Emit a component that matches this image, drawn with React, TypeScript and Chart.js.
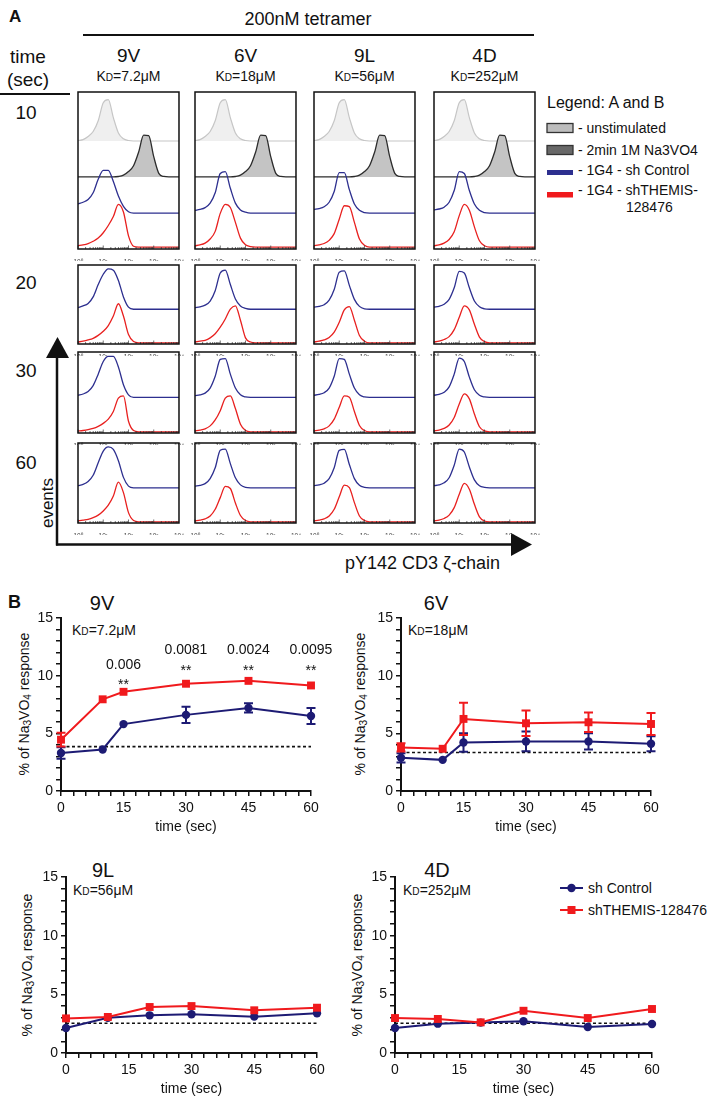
import React, { useEffect, useRef } from 'react';
import { Chart, registerables } from 'chart.js';

Chart.register(...registerables);

const SANS = '"Liberation Sans", Arial, Helvetica, sans-serif';
const NARROW = '"Liberation Sans Narrow", "Liberation Sans", Arial, sans-serif';

// ---------------- Panel A : histogram data (x in decades of fluorescence) ----------------
const histGrid = [0, 0.2, 0.4, 0.6, 0.8, 1, 1.2, 1.4, 1.6, 1.8, 2, 2.2, 2.4, 2.6, 2.8, 3, 3.2, 3.4, 3.6, 3.8, 4];
const decadeTickLabels = ['10⁰', '10¹', '10²', '10³', '10⁴'];
const columnNames = ['9V', '6V', '9L', '4D'];
const columnKd = ['7.2μM', '18μM', '56μM', '252μM'];
const rowTimes = ['10', '20', '30', '60'];

const unstimulated = [1, 3, 10, 21, 45, 85, 92, 52, 18, 5, 1, 0, 0, 0, 0, 0, 0, 0, 0, 0, 0];
const na3vo4 = [0, 0, 0, 0, 0, 0, 0, 0, 1, 4, 12, 25, 55, 93, 92, 45, 8, 1, 0, 0, 0];

const ctrl10_9V = [20, 24, 30, 45, 75, 95, 95, 70, 38, 15, 3, 0, 0, 0, 0, 0, 0, 0, 0, 0, 0];
const themis10_9V = [3, 5, 8, 13, 20, 32, 48, 68, 95, 78, 25, 2, 0, 0, 0, 0, 0, 0, 0, 0, 0];
const ctrl10_6V = [6, 8, 12, 22, 45, 88, 92, 55, 22, 7, 2, 0, 0, 0, 0, 0, 0, 0, 0, 0, 0];
const themis10_6V = [3, 5, 9, 18, 35, 75, 95, 88, 55, 20, 5, 1, 0, 0, 0, 0, 0, 0, 0, 0, 0];
const ctrl10_9L = [8, 10, 14, 24, 48, 90, 90, 52, 20, 6, 1, 0, 0, 0, 0, 0, 0, 0, 0, 0, 0];
const themis10_9L = [3, 5, 8, 15, 30, 62, 92, 90, 55, 18, 4, 0, 0, 0, 0, 0, 0, 0, 0, 0, 0];
const ctrl10_4D = [7, 9, 13, 24, 50, 92, 88, 50, 20, 6, 1, 0, 0, 0, 0, 0, 0, 0, 0, 0, 0];
const themis10_4D = [3, 5, 9, 17, 34, 70, 95, 82, 45, 14, 3, 0, 0, 0, 0, 0, 0, 0, 0, 0, 0];

const ctrl20_9V = [4, 8, 14, 30, 60, 85, 98, 95, 70, 30, 5, 0, 0, 0, 0, 0, 0, 0, 0, 0, 0];
const themis20_9V = [2, 4, 7, 11, 18, 28, 42, 65, 95, 65, 20, 3, 0, 0, 0, 0, 0, 0, 0, 0, 0];
const ctrl20_6V = [4, 6, 10, 20, 45, 88, 95, 60, 25, 8, 2, 0, 0, 0, 0, 0, 0, 0, 0, 0, 0];
const themis20_6V = [2, 4, 6, 12, 22, 38, 58, 82, 90, 55, 12, 2, 0, 0, 0, 0, 0, 0, 0, 0, 0];
const ctrl20_9L = [5, 7, 11, 22, 48, 90, 93, 58, 24, 7, 1, 0, 0, 0, 0, 0, 0, 0, 0, 0, 0];
const themis20_9L = [2, 4, 7, 13, 26, 50, 80, 88, 55, 18, 4, 0, 0, 0, 0, 0, 0, 0, 0, 0, 0];
const ctrl20_4D = [5, 7, 12, 24, 52, 92, 88, 52, 20, 6, 1, 0, 0, 0, 0, 0, 0, 0, 0, 0, 0];
const themis20_4D = [2, 4, 8, 15, 32, 62, 90, 80, 45, 14, 3, 0, 0, 0, 0, 0, 0, 0, 0, 0, 0];

const ctrl30_9V = [5, 8, 14, 28, 55, 85, 97, 97, 72, 30, 6, 0, 0, 0, 0, 0, 0, 0, 0, 0, 0];
const themis30_9V = [2, 3, 5, 8, 13, 20, 30, 48, 80, 85, 25, 3, 0, 0, 0, 0, 0, 0, 0, 0, 0];
const ctrl30_6V = [4, 6, 10, 22, 50, 90, 92, 55, 22, 6, 1, 0, 0, 0, 0, 0, 0, 0, 0, 0, 0];
const themis30_6V = [2, 4, 7, 14, 28, 50, 80, 85, 55, 18, 3, 0, 0, 0, 0, 0, 0, 0, 0, 0, 0];
const ctrl30_9L = [5, 7, 11, 22, 50, 92, 90, 55, 22, 6, 1, 0, 0, 0, 0, 0, 0, 0, 0, 0, 0];
const themis30_9L = [2, 4, 7, 14, 30, 58, 85, 82, 48, 15, 3, 0, 0, 0, 0, 0, 0, 0, 0, 0, 0];
const ctrl30_4D = [5, 7, 12, 25, 55, 93, 85, 48, 18, 5, 1, 0, 0, 0, 0, 0, 0, 0, 0, 0, 0];
const themis30_4D = [2, 4, 8, 16, 34, 66, 90, 78, 42, 12, 2, 0, 0, 0, 0, 0, 0, 0, 0, 0, 0];

const ctrl60_9V = [5, 8, 15, 30, 60, 88, 98, 92, 65, 25, 4, 0, 0, 0, 0, 0, 0, 0, 0, 0, 0];
const themis60_9V = [2, 4, 6, 10, 16, 26, 40, 62, 95, 70, 22, 3, 0, 0, 0, 0, 0, 0, 0, 0, 0];
const ctrl60_6V = [4, 6, 10, 22, 48, 90, 93, 58, 24, 7, 1, 0, 0, 0, 0, 0, 0, 0, 0, 0, 0];
const themis60_6V = [2, 4, 7, 14, 30, 58, 85, 80, 45, 15, 3, 0, 0, 0, 0, 0, 0, 0, 0, 0, 0];
const ctrl60_9L = [5, 7, 11, 22, 48, 90, 92, 56, 22, 6, 1, 0, 0, 0, 0, 0, 0, 0, 0, 0, 0];
const themis60_9L = [2, 4, 7, 14, 30, 60, 88, 82, 46, 14, 3, 0, 0, 0, 0, 0, 0, 0, 0, 0, 0];
const ctrl60_4D = [5, 7, 12, 24, 54, 93, 86, 50, 19, 5, 1, 0, 0, 0, 0, 0, 0, 0, 0, 0, 0];
const themis60_4D = [2, 4, 8, 16, 34, 66, 92, 78, 42, 12, 2, 0, 0, 0, 0, 0, 0, 0, 0, 0, 0];

const ctrlHist = [
  [ctrl10_9V, ctrl10_6V, ctrl10_9L, ctrl10_4D],
  [ctrl20_9V, ctrl20_6V, ctrl20_9L, ctrl20_4D],
  [ctrl30_9V, ctrl30_6V, ctrl30_9L, ctrl30_4D],
  [ctrl60_9V, ctrl60_6V, ctrl60_9L, ctrl60_4D],
];
const themisHist = [
  [themis10_9V, themis10_6V, themis10_9L, themis10_4D],
  [themis20_9V, themis20_6V, themis20_9L, themis20_4D],
  [themis30_9V, themis30_6V, themis30_9L, themis30_4D],
  [themis60_9V, themis60_6V, themis60_9L, themis60_4D],
];

// ---------------- Panel B : % of Na3VO4 response ----------------
const time9V = [0, 10, 15, 30, 45, 60];
const ctrl9V = [3.3, 3.6, 5.8, 6.6, 7.2, 6.5];
const ctrl9VErr = [0.5, 0, 0, 0.7, 0.4, 0.7];
const themis9V = [4.45, 7.95, 8.6, 9.3, 9.55, 9.15];
const themis9VErr = [0.6, 0, 0, 0, 0, 0];
const baseline9V = 3.85;
const sigTimes9V = [15, 30, 45, 60];
const sigP9V = ['0.006', '0.0081', '0.0024', '0.0095'];
const sigPLevel9V = [10.9, 12.2, 12.2, 12.2];
const sigStarLevel9V = [9.15, 10.4, 10.4, 10.4];

const time6V = [0, 10, 15, 30, 45, 60];
const ctrl6V = [2.88, 2.7, 4.2, 4.3, 4.3, 4.1];
const ctrl6VErr = [0.4, 0, 0.8, 0.85, 0.7, 0.65];
const themis6V = [3.78, 3.66, 6.25, 5.87, 5.96, 5.81];
const themis6VErr = [0.35, 0, 1.4, 1.1, 0.85, 0.95];
const baseline6V = 3.34;

const time9L = [0, 10, 20, 30, 45, 60];
const ctrl9L = [2.13, 3.01, 3.21, 3.3, 3.1, 3.38];
const themis9L = [2.95, 3.07, 3.92, 4.0, 3.64, 3.86];
const baseline9L = 2.53;

const time4D = [0, 10, 20, 30, 45, 60];
const ctrl4D = [2.13, 2.5, 2.59, 2.7, 2.22, 2.47];
const themis4D = [2.98, 2.9, 2.61, 3.6, 2.98, 3.75];
const baseline4D = 2.53;

const xTicksB = [0, 15, 30, 45, 60];
const yTicksB = [0, 5, 10, 15];

// ---------------- styling / layout ----------------
const NAVY = '#1d1b74';
const RED = '#f01a1d';
const BLUE_H = '#2d2f8f';
const RED_H = '#e8201f';

const boxLefts = [78, 195, 314, 434];
const boxW = 101;
const rowTops = [92, 265, 352, 443];
const rowHeights = [157, 79, 81, 80];
const rowLabelY = [112, 282, 370, 462];

const histFrame = {
  id: 'histFrame',
  afterDatasetsDraw(chart: any) {
    const { ctx, chartArea: a, scales } = chart;
    const xs = scales.x;
    ctx.save();
    ctx.strokeStyle = '#333';
    ctx.lineWidth = 0.7;
    for (let d = 0; d < 4; d++) {
      for (let k = 1; k <= 9; k++) {
        const px = xs.getPixelForValue(d + Math.log10(k));
        const len = k === 1 ? 3.5 : 2;
        ctx.beginPath();
        ctx.moveTo(px, a.bottom);
        ctx.lineTo(px, a.bottom - len);
        ctx.stroke();
      }
    }
    ctx.lineWidth = 1.5;
    ctx.strokeStyle = '#111';
    ctx.strokeRect(a.left, a.top, a.right - a.left, a.bottom - a.top);
    ctx.restore();
  },
};

function HistCell({ row, col }: { row: number; col: number }) {
  const ref = useRef<HTMLCanvasElement>(null);
  const left = boxLefts[col];
  const top = rowTops[row];
  const height = rowHeights[row];
  useEffect(() => {
    const first = row === 0;
    const span = first ? 349 : 192;
    const lanes: any[] = first
      ? [
          { v: unstimulated, line: '#c6c6c6', fill: '#efefef', f: 0.688, w: 1.2 },
          { v: na3vo4, line: '#2c2c2c', fill: '#c4c4c4', f: 0.459, w: 1.3 },
          { v: ctrlHist[row][col], line: BLUE_H, f: 0.229, w: 1.3 },
          { v: themisHist[row][col], line: RED_H, f: 0.012, w: 1.3 },
        ]
      : [
          { v: ctrlHist[row][col], line: BLUE_H, f: 0.44, w: 1.3 },
          { v: themisHist[row][col], line: RED_H, f: 0.015, w: 1.3 },
        ];
    const scales: any = {
      x: {
        type: 'linear',
        min: 0,
        max: 4,
        position: 'bottom',
        border: { display: false },
        grid: { display: false },
        ticks: {
          stepSize: 1,
          autoSkip: false,
          maxRotation: 0,
          padding: 1,
          color: '#444',
          font: { family: SANS, size: 6.5 },
          callback: (v: number) => decadeTickLabels[v],
        },
        afterFit: (s: any) => {
          s.height = 12;
        },
      },
    };
    lanes.forEach((l, i) => {
      scales['y' + i] = { display: false, min: -l.f * span, max: (1 - l.f) * span };
    });
    const chart = new Chart(ref.current as HTMLCanvasElement, {
      type: 'line',
      data: {
        datasets: lanes.map((l, i) => ({
          data: histGrid.map((x, j) => ({ x, y: l.v[j] })),
          yAxisID: 'y' + i,
          borderColor: l.line,
          backgroundColor: l.fill || 'rgba(0,0,0,0)',
          fill: l.fill ? 'origin' : false,
          borderWidth: l.w,
          pointRadius: 0,
          cubicInterpolationMode: 'monotone',
          order: lanes.length - i,
        })),
      },
      options: {
        animation: false,
        responsive: false,
        events: [],
        layout: { padding: { left: 6, right: 6, top: 1, bottom: 0 } },
        plugins: { legend: { display: false }, tooltip: { enabled: false } },
        scales,
      } as any,
      plugins: [histFrame],
    });
    return () => chart.destroy();
  }, [row, col]);
  return (
    <canvas
      ref={ref}
      width={boxW + 12}
      height={height + 13}
      style={{ position: 'absolute', left: left - 6, top: top - 1, width: boxW + 12, height: height + 13 }}
    />
  );
}

const errorBars = {
  id: 'errorBars',
  afterDatasetsDraw(chart: any) {
    const { ctx, scales } = chart;
    chart.data.datasets.forEach((ds: any) => {
      if (!ds.errors) return;
      ctx.save();
      ctx.strokeStyle = ds.borderColor;
      ctx.lineWidth = 2;
      ds.data.forEach((p: any, i: number) => {
        const e = ds.errors[i];
        if (!e) return;
        const x = scales.x.getPixelForValue(p.x);
        const y1 = scales.y.getPixelForValue(p.y - e);
        const y2 = scales.y.getPixelForValue(p.y + e);
        ctx.beginPath();
        ctx.moveTo(x, y1);
        ctx.lineTo(x, y2);
        ctx.moveTo(x - 4.5, y1);
        ctx.lineTo(x + 4.5, y1);
        ctx.moveTo(x - 4.5, y2);
        ctx.lineTo(x + 4.5, y2);
        ctx.stroke();
      });
      ctx.restore();
    });
  },
};

const sigMarks = {
  id: 'sigMarks',
  afterDatasetsDraw(chart: any, _args: any, opts: any) {
    if (!opts || !opts.times) return;
    const { ctx, scales } = chart;
    ctx.save();
    ctx.fillStyle = '#111';
    ctx.textAlign = 'center';
    ctx.textBaseline = 'middle';
    ctx.font = `14px ${SANS}`;
    opts.times.forEach((t: number, i: number) => {
      const x = scales.x.getPixelForValue(t);
      ctx.fillText(opts.p[i], x, scales.y.getPixelForValue(opts.pLevel[i]));
      ctx.fillText('**', x, scales.y.getPixelForValue(opts.starLevel[i]));
    });
    ctx.restore();
  },
};

type RespProps = {
  area: [number, number, number, number];
  time: number[];
  ctrl: number[];
  ctrlErr?: number[];
  themis: number[];
  themisErr?: number[];
  baseline: number;
  sig?: any;
};

function ResponseChart({ area, time, ctrl, ctrlErr, themis, themisErr, baseline, sig }: RespProps) {
  const ref = useRef<HTMLCanvasElement>(null);
  const [L, T, R, B] = area;
  const yW = 60;
  const padTop = 12;
  const padRight = 30;
  const xH = 45;
  const cw = R - L + yW + padRight;
  const ch = B - T + padTop + xH;
  useEffect(() => {
    const tickStyle = { color: '#111', font: { family: SANS, size: 14 } };
    const chart = new Chart(ref.current as HTMLCanvasElement, {
      type: 'line',
      data: {
        datasets: [
          {
            data: [
              { x: 0, y: baseline },
              { x: 60, y: baseline },
            ],
            borderColor: '#111',
            borderWidth: 1.6,
            borderDash: [3, 2.5],
            pointRadius: 0,
            order: 3,
          },
          {
            data: time.map((t, i) => ({ x: t, y: ctrl[i] })),
            errors: ctrlErr,
            borderColor: NAVY,
            backgroundColor: NAVY,
            borderWidth: 2,
            pointStyle: 'circle',
            pointRadius: 4.2,
            pointBorderWidth: 0,
            clip: false,
            order: 2,
          },
          {
            data: time.map((t, i) => ({ x: t, y: themis[i] })),
            errors: themisErr,
            borderColor: RED,
            backgroundColor: RED,
            borderWidth: 2,
            pointStyle: 'rect',
            pointRadius: 5.6,
            pointBorderWidth: 0,
            clip: false,
            order: 1,
          },
        ] as any,
      },
      options: {
        animation: false,
        responsive: false,
        events: [],
        layout: { padding: { left: 0, right: padRight, top: padTop, bottom: 0 } },
        plugins: { legend: { display: false }, tooltip: { enabled: false }, sigMarks: sig || {} },
        scales: {
          x: {
            type: 'linear',
            min: 0,
            max: 60,
            border: { display: true, color: '#111', width: 2 },
            grid: { display: true, drawOnChartArea: false, drawTicks: true, tickLength: 5, color: '#111', lineWidth: 1.5 },
            ticks: {
              ...tickStyle,
              stepSize: 3,
              autoSkip: false,
              maxRotation: 0,
              padding: 4,
              callback: (v: number) => (xTicksB.includes(v) ? String(v) : ''),
            },
            title: { display: true, text: 'time (sec)', color: '#111', font: { family: SANS, size: 14 }, padding: 0 },
            afterFit: (s: any) => {
              s.height = xH;
            },
          },
          y: {
            type: 'linear',
            min: 0,
            max: 15,
            border: { display: true, color: '#111', width: 2 },
            grid: { display: true, drawOnChartArea: false, drawTicks: true, tickLength: 5, color: '#111', lineWidth: 1.5 },
            ticks: {
              ...tickStyle,
              stepSize: 1,
              autoSkip: false,
              padding: 3,
              callback: (v: number) => (yTicksB.includes(v) ? String(v) : ''),
            },
            afterFit: (s: any) => {
              s.width = yW;
            },
          },
        },
      } as any,
      plugins: [errorBars, sigMarks],
    });
    return () => chart.destroy();
  }, []);
  return (
    <canvas
      ref={ref}
      width={cw}
      height={ch}
      style={{ position: 'absolute', left: L - yW, top: T - padTop, width: cw, height: ch }}
    />
  );
}

function Txt({
  x,
  y,
  children,
  size = 14,
  anchor = 'middle',
  font = SANS,
  weight = 400,
  rotate = 0,
}: {
  x: number;
  y: number;
  children: any;
  size?: number;
  anchor?: string;
  font?: string;
  weight?: number;
  rotate?: number;
}) {
  const tx = anchor === 'middle' ? '-50%' : anchor === 'end' ? '-100%' : '0';
  return (
    <div
      style={{
        position: 'absolute',
        left: x,
        top: y,
        transform: `translate(${tx}, -50%)${rotate ? ` rotate(${rotate}deg)` : ''}`,
        fontFamily: font,
        fontSize: size,
        fontWeight: weight,
        lineHeight: 1,
        whiteSpace: 'nowrap',
        color: '#111',
      }}
    >
      {children}
    </div>
  );
}

function Kd({ value }: { value: string }) {
  return (
    <span>
      K<span style={{ fontSize: '0.72em' }}>D</span>={value}
    </span>
  );
}

const yTitle = (
  <span>
    % of Na<sub style={{ fontSize: '0.72em', verticalAlign: '-0.25em' }}>3</sub>VO
    <sub style={{ fontSize: '0.72em', verticalAlign: '-0.25em' }}>4</sub> response
  </span>
);

export default function App() {
  const cells: any[] = [];
  for (let r = 0; r < 4; r++) for (let c = 0; c < 4; c++) cells.push(<HistCell key={`${r}-${c}`} row={r} col={c} />);
  return (
    <div
      style={{
        position: 'absolute',
        left: 0,
        top: 0,
        width: 707,
        height: 1096,
        background: '#fff',
        overflow: 'hidden',
      }}
    >
      <svg width={707} height={1096} style={{ position: 'absolute', left: 0, top: 0 }}>
        <line x1={83} y1={35} x2={534} y2={35} stroke="#111" strokeWidth={2} />
        <line x1={0} y1={94} x2={70} y2={94} stroke="#111" strokeWidth={2} />
        <line x1={57} y1={354} x2={57} y2={545.5} stroke="#111" strokeWidth={2.5} />
        <polygon points="46,358 69,358 57.5,337" fill="#111" />
        <line x1={56} y1={544.5} x2={513} y2={544.5} stroke="#111" strokeWidth={2.5} />
        <polygon points="511,533 511,556 532,544.5" fill="#111" />
        <rect x={547} y={123.5} width={26} height={9} fill="#bdbdbd" stroke="#333" strokeWidth={1.3} />
        <rect x={547} y={145.5} width={26} height={9} fill="#686868" stroke="#333" strokeWidth={1.3} />
        <rect x={547} y={170} width={26} height={5} fill={BLUE_H} />
        <rect x={547} y={192} width={26} height={5.5} fill={RED} />
        <line x1={560} y1={888} x2={583} y2={888} stroke={NAVY} strokeWidth={2} />
        <circle cx={571.5} cy={888} r={4.2} fill={NAVY} />
        <line x1={560} y1={910} x2={583} y2={910} stroke={RED} strokeWidth={2} />
        <rect x={567.5} y={906} width={8} height={8} fill={RED} />
      </svg>

      {/* Panel A labels */}
      <Txt x={9} y={16} size={17} weight={700} anchor="start">A</Txt>
      <Txt x={308} y={19} size={18} font={NARROW}>200nM tetramer</Txt>
      <Txt x={28} y={56} size={19} font={NARROW}>time</Txt>
      <Txt x={28} y={79} size={19} font={NARROW}>(sec)</Txt>
      {columnNames.map((n, i) => (
        <Txt key={n} x={boxLefts[i] + boxW / 2} y={55} size={19} font={NARROW}>{n}</Txt>
      ))}
      {columnKd.map((k, i) => (
        <Txt key={k} x={boxLefts[i] + boxW / 2} y={76} size={14} font={NARROW}><Kd value={k} /></Txt>
      ))}
      {rowTimes.map((t, i) => (
        <Txt key={t} x={26} y={rowLabelY[i]} size={19} font={NARROW}>{t}</Txt>
      ))}
      <Txt x={47} y={503} size={17} font={NARROW} rotate={-90}>events</Txt>
      <Txt x={345} y={563} size={18} font={NARROW} anchor="start">pY142 CD3 ζ-chain</Txt>

      <Txt x={547} y={103} size={16} font={NARROW} anchor="start">Legend: A and B</Txt>
      <Txt x={578} y={128} size={14} font={NARROW} anchor="start">- unstimulated</Txt>
      <Txt x={578} y={150} size={14} font={NARROW} anchor="start">- 2min 1M Na3VO4</Txt>
      <Txt x={578} y={170} size={14} font={NARROW} anchor="start">- 1G4 - sh Control</Txt>
      <Txt x={578} y={190} size={14} font={NARROW} anchor="start">- 1G4 - shTHEMIS-</Txt>
      <Txt x={626} y={207} size={14} font={NARROW} anchor="start">128476</Txt>

      {cells}

      {/* Panel B labels */}
      <Txt x={8} y={602} size={18} weight={700} anchor="start">B</Txt>
      <Txt x={102} y={603} size={20}>9V</Txt>
      <Txt x={436} y={603} size={20}>6V</Txt>
      <Txt x={103} y={870} size={20}>9L</Txt>
      <Txt x={437} y={870} size={20}>4D</Txt>
      <Txt x={72} y={630} size={14} anchor="start"><Kd value={columnKd[0]} /></Txt>
      <Txt x={408} y={630} size={14} anchor="start"><Kd value={columnKd[1]} /></Txt>
      <Txt x={73} y={890} size={14} anchor="start"><Kd value={columnKd[2]} /></Txt>
      <Txt x={403} y={890} size={14} anchor="start"><Kd value={columnKd[3]} /></Txt>
      <Txt x={25} y={704} size={14} rotate={-90}>{yTitle}</Txt>
      <Txt x={361} y={704} size={14} rotate={-90}>{yTitle}</Txt>
      <Txt x={28} y={965} size={14} rotate={-90}>{yTitle}</Txt>
      <Txt x={358} y={965} size={14} rotate={-90}>{yTitle}</Txt>
      <Txt x={588} y={888} size={14} anchor="start">sh Control</Txt>
      <Txt x={588} y={910} size={14} anchor="start">shTHEMIS-128476</Txt>

      <ResponseChart
        area={[61, 618, 311, 791]}
        time={time9V}
        ctrl={ctrl9V}
        ctrlErr={ctrl9VErr}
        themis={themis9V}
        themisErr={themis9VErr}
        baseline={baseline9V}
        sig={{ times: sigTimes9V, p: sigP9V, pLevel: sigPLevel9V, starLevel: sigStarLevel9V }}
      />
      <ResponseChart
        area={[401, 618, 651, 791]}
        time={time6V}
        ctrl={ctrl6V}
        ctrlErr={ctrl6VErr}
        themis={themis6V}
        themisErr={themis6VErr}
        baseline={baseline6V}
      />
      <ResponseChart area={[66, 877, 317, 1053]} time={time9L} ctrl={ctrl9L} themis={themis9L} baseline={baseline9L} />
      <ResponseChart area={[395, 877, 652, 1053]} time={time4D} ctrl={ctrl4D} themis={themis4D} baseline={baseline4D} />
    </div>
  );
}
